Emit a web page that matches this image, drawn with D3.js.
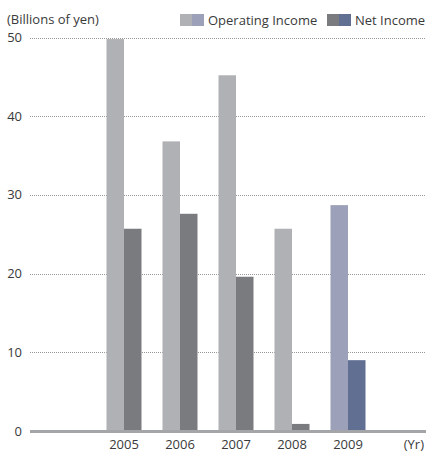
<!DOCTYPE html>
<html>
<head>
<meta charset="utf-8">
<script src="https://cdn.jsdelivr.net/npm/d3@7"></script>
<style>
  html, body { margin: 0; padding: 0; background: #fff; }
  svg { display: block; }
  text { font-family: "Open Sans", "Noto Sans", sans-serif; fill: #3a3a3a; }
</style>
</head>
<body>
<div id="chart"></div>
<script>
// Fiscal years and values (billions of yen)
const years = ["2005", "2006", "2007", "2008", "2009"];
const operatingIncome = [49.8, 36.8, 45.2, 25.7, 28.7];
const netIncome = [25.7, 27.6, 19.6, 0.9, 9.0];
const yTicks = [0, 10, 20, 30, 40, 50];
const seriesNames = ["Operating Income", "Net Income"];

// past years in gray, latest year highlighted in blue
const colors = {
  op:  { past: "#b0b1b4", latest: "#9ca0b8" },
  net: { past: "#7a7b7f", latest: "#616f93" }
};

const width = 426, height = 452;
const fontSize = 13;
const svg = d3.select("#chart").append("svg")
  .attr("width", width).attr("height", height);

const y = d3.scaleLinear().domain([0, 50]).range([431, 37.5]);
const x = d3.scaleBand().domain(years).range([96, 376])
  .paddingInner(0.375).paddingOuter(0.1875);
const xSub = d3.scaleBand().domain(["op", "net"]).range([0, x.bandwidth()]);

// dotted gridlines
svg.append("g").selectAll("line")
  .data(yTicks.filter(d => d > 0))
  .join("line")
  .attr("x1", 30).attr("x2", width)
  .attr("y1", d => Math.round(y(d)) + 0.5).attr("y2", d => Math.round(y(d)) + 0.5)
  .attr("stroke", "#9a9a9a").attr("stroke-width", 1)
  .attr("stroke-dasharray", "1,1");

// y tick labels
svg.append("g").selectAll("text")
  .data(yTicks)
  .join("text")
  .attr("x", 22).attr("y", d => y(d) + 4.5)
  .attr("text-anchor", "end")
  .attr("font-size", fontSize)
  .text(d => d);

// bars
const rows = years.map((yr, i) => ({ yr, i, op: operatingIncome[i], net: netIncome[i] }));
const groups = svg.append("g").selectAll("g")
  .data(rows).join("g")
  .attr("transform", d => `translate(${x(d.yr)},0)`);

["op", "net"].forEach(key => {
  groups.append("rect")
    .attr("x", xSub(key))
    .attr("width", xSub.bandwidth())
    .attr("y", d => y(d[key]))
    .attr("height", d => y(0) - y(d[key]))
    .attr("fill", d => d.i === years.length - 1 ? colors[key].latest : colors[key].past);
});

// baseline
svg.append("line")
  .attr("x1", 30).attr("x2", width)
  .attr("y1", y(0) + 0.5).attr("y2", y(0) + 0.5)
  .attr("stroke", "#a4a5a8").attr("stroke-width", 3);

// x labels
svg.append("g").selectAll("text")
  .data(years).join("text")
  .attr("x", d => x(d) + x.bandwidth() / 2)
  .attr("y", 449)
  .attr("text-anchor", "middle")
  .attr("font-size", fontSize)
  .text(d => d);

svg.append("text").attr("x", 424).attr("y", 449)
  .attr("text-anchor", "end").attr("font-size", fontSize).text("(Yr)");

// unit label
svg.append("text").attr("x", 7).attr("y", 24)
  .attr("font-size", fontSize).text("(Billions of yen)");

// legend
const legendX = [180, 327];
const legendKeys = ["op", "net"];
legendKeys.forEach((key, i) => {
  const g = svg.append("g").attr("transform", `translate(${legendX[i]},14)`);
  g.append("rect").attr("x", 0).attr("y", 0).attr("width", 12).attr("height", 12)
    .attr("fill", colors[key].past);
  g.append("rect").attr("x", 12).attr("y", 0).attr("width", 12).attr("height", 12)
    .attr("fill", colors[key].latest);
  g.append("text").attr("x", 28).attr("y", 10.5)
    .attr("font-size", fontSize).text(seriesNames[i]);
});
</script>
</body>
</html>
